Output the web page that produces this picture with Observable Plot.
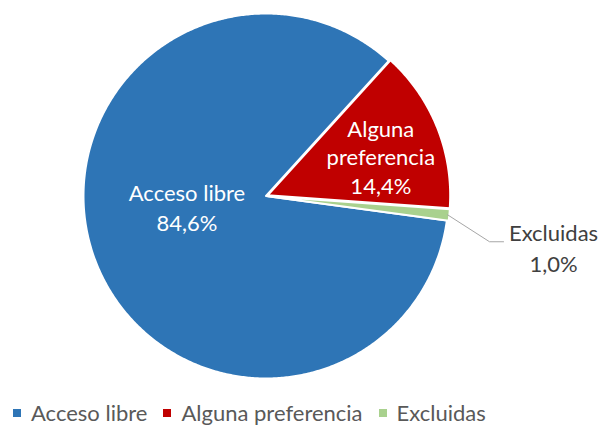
<!DOCTYPE html>
<html><head><meta charset="utf-8">
<script src="https://cdn.jsdelivr.net/npm/d3@7"></script>
<script src="https://cdn.jsdelivr.net/npm/@observablehq/plot@0.6"></script>
<style>
body{margin:0;background:#fff;font-family:Lato,"Open Sans",sans-serif;}
#legend{display:flex;align-items:center;height:26px;padding-top:4px;padding-left:13px;font-size:22px;line-height:22px;color:#595959;}
.item{display:flex;align-items:center;margin-right:16px;}
.sw{width:8px;height:8px;margin-right:10px;}
</style></head><body><div id="chart"></div><div id="legend"></div>
<script>
const categories = ["Acceso libre", "Alguna preferencia", "Excluidas"];
const values = [84.6, 14.4, 1.0];
const valueLabels = ["84,6%", "14,4%", "1,0%"];
const labelLines = [["Acceso libre"], ["Alguna", "preferencia"], ["Excluidas"]];
const colors = ["#2E75B6", "#C00000", "#A9D18E"];

const W = 598, H = 396, CX = 265.5, CY = 195.5, R = 182.5;
const START = 97.7; // first slice angle, degrees clockwise from top
const total = d3.sum(values);
let acc = START;
const slices = categories.map((c, i) => {
  const a0 = acc, a1 = acc + values[i] / total * 360; acc = a1;
  return {cat: c, i, a0, a1, mid: (a0 + a1) / 2, text: [...labelLines[i], valueLabels[i]].join("\n")};
});
const rad = d => d * Math.PI / 180;
const pt = (deg, r) => [r * Math.sin(rad(deg)), r * Math.cos(rad(deg))];
const explode = [0, 0.01, 0.01];
const polys = [];
slices.forEach(s => {
  const [ox, oy] = pt(s.mid, explode[s.i]);
  polys.push({cat: s.cat, x: ox, y: oy});
  const n = Math.max(4, Math.ceil((s.a1 - s.a0) / 0.5));
  for (let k = 0; k <= n; k++) {
    const [x, y] = pt(s.a0 + (s.a1 - s.a0) * k / n, 1);
    polys.push({cat: s.cat, x: x + ox, y: y + oy});
  }
  polys.push({cat: s.cat, x: ox, y: oy});
});

// label anchors derived from slice mid-angles
const lab = (s, r) => { const [x, y] = pt(s.mid, r); return {...s, x, y}; };
const blueLab = lab(slices[0], 0.42);
const redLab = lab(slices[1], 0.66);
const g = slices[2];
const [gx, gy] = pt(g.mid, 1.0);
const leader = [
  {x: gx, y: gy},
  {x: gx + 42 / R, y: gy - 27 / R},
  {x: gx + 56 / R, y: gy - 27 / R}
];
const greenLab = {...g, x: gx + 106 / R, y: gy - 32 / R};

const fs = 22;
const chart = Plot.plot({
  width: W, height: H, margin: 0,
  x: {domain: [-CX / R, (W - CX) / R], axis: null},
  y: {domain: [-(H - CY) / R, CY / R], axis: null},
  color: {domain: categories, range: colors},
  style: {fontFamily: "Lato, 'Open Sans', sans-serif", background: "white"},
  marks: [
    Plot.line(polys, {x: "x", y: "y", z: "cat", fill: "cat", stroke: "white", strokeWidth: 2, curve: "linear"}),
    Plot.line(leader, {x: "x", y: "y", stroke: "#A6A6A6", strokeWidth: 1}),
    Plot.text([blueLab], {x: "x", y: "y", text: "text", fill: "white", fontSize: fs, lineHeight: 1.36, dx: -7, dy: -16}),
    Plot.text([redLab], {x: "x", y: "y", text: "text", fill: "white", fontSize: fs, lineHeight: 1.3, dx: 3, dy: 5}),
    Plot.text([greenLab], {x: "x", y: "y", text: "text", fill: "#404040", fontSize: fs, lineHeight: 1.38})
  ]
});
document.getElementById("chart").appendChild(chart);

const legend = document.getElementById("legend");
categories.forEach((c, i) => {
  const it = document.createElement("div"); it.className = "item";
  const sw = document.createElement("span"); sw.className = "sw"; sw.style.background = colors[i];
  const t = document.createElement("span"); t.textContent = c;
  it.appendChild(sw); it.appendChild(t); legend.appendChild(it);
});
</script></body></html>
